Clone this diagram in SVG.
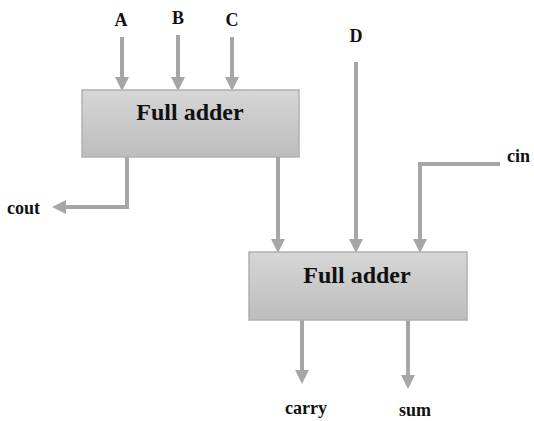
<svg xmlns="http://www.w3.org/2000/svg" width="534" height="421" viewBox="0 0 534 421">
<defs>
<linearGradient id="g" x1="0" y1="0" x2="0" y2="1">
<stop offset="0" stop-color="#d6d6d6"/>
<stop offset="1" stop-color="#bdbdbd"/>
</linearGradient>
<marker id="ah" markerUnits="userSpaceOnUse" markerWidth="14" markerHeight="16" refX="0" refY="8" orient="auto">
<path d="M0,1 L14,8 L0,15 Z" fill="#a6a6a6"/>
</marker>
<style>
.box{fill:url(#g);stroke:#b0b0b0;stroke-width:1.5}
.t{font-family:"Liberation Serif","Times New Roman",serif;font-weight:bold;fill:#111}
.big{font-size:24px}
.lbl{font-size:18px}
.w{fill:none;stroke:#a6a6a6;stroke-width:4}
</style>
</defs>
<rect width="534" height="421" fill="#fff"/>
<g id="connectors">
<path class="w" d="M122,37 V77" marker-end="url(#ah)"/>
<path class="w" d="M178,35 V77" marker-end="url(#ah)"/>
<path class="w" d="M232,37 V77" marker-end="url(#ah)"/>
<path class="w" d="M127,157 V207 H66" marker-end="url(#ah)"/>
<path class="w" d="M278,157 V239" marker-end="url(#ah)"/>
<path class="w" d="M356,62 V239" marker-end="url(#ah)"/>
<path class="w" d="M500,164 H420 V239" marker-end="url(#ah)"/>
<path class="w" d="M302,320 V370" marker-end="url(#ah)"/>
<path class="w" d="M408,320 V375" marker-end="url(#ah)"/>
</g>
<g id="fa1">
<rect class="box" x="82" y="90" width="217" height="67"/>
<text class="t big" x="190" y="120" text-anchor="middle">Full adder</text>
</g>
<g id="fa2">
<rect class="box" x="249" y="252" width="218" height="68"/>
<text class="t big" x="357" y="283" text-anchor="middle">Full adder</text>
</g>
<g id="labels">
<text class="t lbl" x="121" y="26" text-anchor="middle">A</text>
<text class="t lbl" x="178" y="24" text-anchor="middle">B</text>
<text class="t lbl" x="232" y="26" text-anchor="middle">C</text>
<text class="t lbl" x="356" y="42" text-anchor="middle">D</text>
<text class="t lbl" x="507" y="162">cin</text>
<text class="t lbl" x="7" y="214">cout</text>
<text class="t lbl" x="306" y="414" text-anchor="middle">carry</text>
<text class="t lbl" x="415" y="416" text-anchor="middle">sum</text>
</g>
</svg>
